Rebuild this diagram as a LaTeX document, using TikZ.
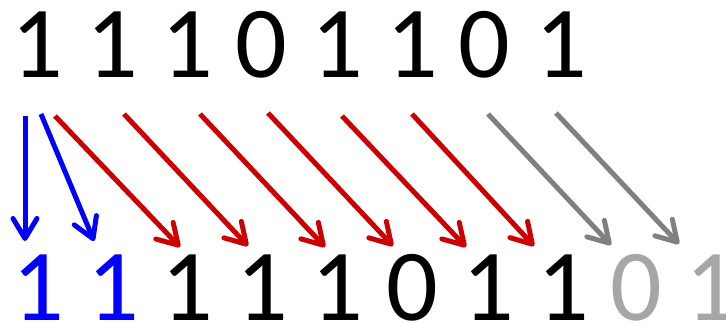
\documentclass[tikz,border=0pt]{standalone}
\usepackage{fontspec}
\setmainfont{Carlito}
\usetikzlibrary{arrows.meta}
\definecolor{myblue}{RGB}{0,0,255}
\definecolor{myred}{RGB}{204,0,0}
\definecolor{arrgray}{RGB}{128,128,128}
\definecolor{diggray}{RGB}{166,166,166}
\begin{document}
\begin{tikzpicture}[x=1pt,y=-1pt,
  digit/.style={inner sep=0pt,anchor=base,font=\fontsize{102}{110}\selectfont},
  arr/.style={line width=5pt,-{Straight Barb[length=20pt,width=24pt,round]}}]
\useasboundingbox (0,0) rectangle (726,322);
\clip (0,0) rectangle (726,322);
% top row
\node[digit] (t1) at (37,77) {1};
\node[digit] (t2) at (112,77) {1};
\node[digit] (t3) at (187,77) {1};
\node[digit] (t4) at (261,77) {0};
\node[digit] (t5) at (337,77) {1};
\node[digit] (t6) at (412,77) {1};
\node[digit] (t7) at (484,77) {0};
\node[digit] (t8) at (561,77) {1};
% bottom row
\node[digit,text=myblue] (b1) at (38,320) {1};
\node[digit,text=myblue] (b2) at (113,320) {1};
\node[digit] (b3) at (187,320) {1};
\node[digit] (b4) at (262,320) {1};
\node[digit] (b5) at (337,320) {1};
\node[digit] (b6) at (412,320) {0};
\node[digit] (b7) at (488,320) {1};
\node[digit] (b8) at (563,320) {1};
\node[digit,text=diggray] (b9) at (636,320) {0};
\node[digit,text=diggray] (b10) at (711,320) {1};
% arrow ends
\coordinate (s1) at (25,116);
\coordinate (e1) at (25,241);
\coordinate (s2) at (41,114);
\coordinate (e2) at (94,241);
\coordinate (s3) at (55,116);
\coordinate (e3) at (180,247);
\coordinate (s4) at (124,114);
\coordinate (e4) at (248,246);
\coordinate (s5) at (200,114);
\coordinate (e5) at (325,247);
\coordinate (s6) at (268,113);
\coordinate (e6) at (393,246);
\coordinate (s7) at (342,116);
\coordinate (e7) at (466,247);
\coordinate (s8) at (412,114);
\coordinate (e8) at (534,246);
\coordinate (s9) at (488,114);
\coordinate (e9) at (611,245);
\coordinate (s10) at (556,113);
\coordinate (e10) at (679,244);
\draw[arr,myblue] (s1) -- (e1);
\draw[arr,myblue] (s2) -- (e2);
\draw[arr,myred] (s3) -- (e3);
\draw[arr,myred] (s4) -- (e4);
\draw[arr,myred] (s5) -- (e5);
\draw[arr,myred] (s6) -- (e6);
\draw[arr,myred] (s7) -- (e7);
\draw[arr,myred] (s8) -- (e8);
\draw[arr,arrgray] (s9) -- (e9);
\draw[arr,arrgray] (s10) -- (e10);
\end{tikzpicture}
\end{document}
